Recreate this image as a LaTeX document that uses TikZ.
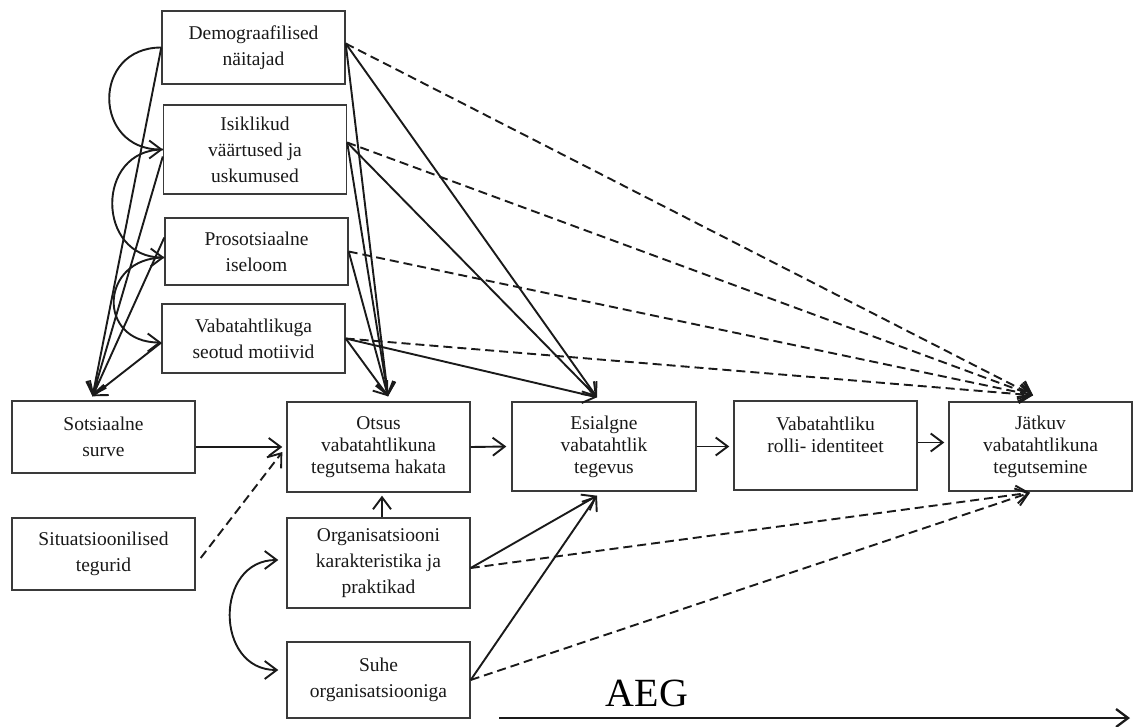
\documentclass[tikz,border=0pt]{standalone}
\usepackage{fontspec}
\setmainfont{Liberation Serif}
\usetikzlibrary{arrows.meta,calc}
\definecolor{boxgray}{HTML}{3A3A3A}
\definecolor{linec}{HTML}{1A1A1A}
\begin{document}
\begin{tikzpicture}[x=1pt,y=-1pt,
  box/.style={draw=boxgray, line width=1.4pt, minimum width=183pt, inner sep=0pt, align=center, text=black!90, font=\fontsize{19.5}{26}\selectfont},
  mid/.style={box, font=\fontsize{19.5}{22}\selectfont},
  arr/.style={draw=linec, line width=1.9pt, -{Straight Barb[length=12pt,width=18pt]}},
  darr/.style={arr, dash pattern=on 9pt off 5pt},
  arrtwo/.style={arr, {Straight Barb[length=12pt,width=18pt]}-{Straight Barb[length=12pt,width=18pt]}}]
\useasboundingbox (0,0) rectangle (1133,726);
\fill[white] (0,0) rectangle (1133,726);

% nodes
\node[box, minimum height=73pt] (demo) at (253.5,47.5) {Demograafilised\\näitajad};
\node[box, minimum height=89pt] (isik) at (255,149.5) {Isiklikud\\väärtused ja\\uskumused};
\node[box, minimum height=67pt] (proso) at (256.5,251.5) {Prosotsiaalne\\iseloom};
\node[box, minimum height=69pt] (vaba) at (253.5,338.5) {Vabatahtlikuga\\seotud motiivid};
\node[box, minimum height=72pt] (sots) at (103.5,437) {Sotsiaalne\\surve};
\node[box, minimum height=72pt] (situ) at (103.5,554) {Situatsioonilised\\tegurid};
\node[mid, minimum height=90pt] (otsus) at (378.5,447) {Otsus\\vabatahtlikuna\\tegutsema hakata};
\node[box, minimum height=90pt] (org) at (378.5,563) {Organisatsiooni\\karakteristika ja\\praktikad};
\node[box, minimum height=76pt] (suhe) at (378.5,680) {Suhe\\organisatsiooniga};
\node[mid, minimum height=89pt, minimum width=184pt] (esi) at (604,446.5) {Esialgne\\vabatahtlik\\tegevus};
\node[mid, minimum height=89pt] (rolli) at (825.5,445.5) {Vabatahtliku\\rolli- identiteet\\\mbox{}};
\node[mid, minimum height=89pt] (jatk) at (1040.5,446.5) {Jätkuv\\vabatahtlikuna\\tegutsemine};

% left curved arrows
\draw[arr] (demo.west) .. controls +(-70,0) and +(-70,0) .. (isik.west);
\draw[arr] (isik.west) .. controls +(-68,0) and +(-68,0) .. ([yshift=-6pt]proso.west);
\draw[arr] ([yshift=-6pt]proso.west) .. controls +(-65,0) and +(-65,0) .. ([yshift=-4pt]vaba.west);

% to Sotsiaalne surve
\coordinate (sotsIn) at ([xshift=-11pt,yshift=4pt]sots.north);
\draw[arr] (demo.west) -- (sotsIn);
\draw[arr] ([yshift=-7pt]isik.west) -- (sotsIn);
\draw[arr] ([yshift=14pt]proso.west) -- (sotsIn);
\draw[arr] ([yshift=-4pt]vaba.west) -- (sotsIn);

% to Otsus top
\coordinate (otsIn) at ([xshift=9.5pt,yshift=5pt]otsus.north);
\draw[arr] ([yshift=4pt]demo.east) -- (otsIn);
\draw[arr] ([yshift=7pt]isik.east) -- (otsIn);
\draw[arr] (proso.east) -- (otsIn);
\draw[arr] (vaba.east) -- (otsIn);

% to Esialgne top
\coordinate (esiIn) at ([xshift=-7pt,yshift=4pt]esi.north);
\draw[arr] ([yshift=4pt]demo.east) -- (esiIn);
\draw[arr] ([yshift=7pt]isik.east) -- (esiIn);
\draw[arr] (vaba.east) -- (esiIn);

% dashed to Jatkuv top
\coordinate (jatIn) at ([xshift=-7.5pt,yshift=6pt]jatk.north);
\draw[darr] ([yshift=4pt]demo.east) -- (jatIn);
\draw[darr] ([yshift=7pt]isik.east) -- (jatIn);
\draw[darr] (proso.east) -- (jatIn);
\draw[darr] (vaba.east) -- (jatIn);

% from org and suhe
\coordinate (esiBot) at ([xshift=-7pt,yshift=-4pt]esi.south);
\coordinate (jatBot) at ([xshift=-10.5pt,yshift=-1pt]jatk.south);
\draw[arr] ([yshift=-5pt]org.east) -- (esiBot);
\draw[arr] (suhe.east) -- (esiBot);
\draw[darr] ([yshift=-5pt]org.east) -- (jatBot);
\draw[darr] (suhe.east) -- (jatBot);

% horizontal flow
\draw[arr] (sots.east |- otsus.west) -- ([xshift=-4pt]otsus.west);
\draw[darr] ([xshift=5pt,yshift=-4pt]situ.east) -- ([xshift=-4pt,yshift=-5pt]otsus.west);
\draw[arr] ([xshift=3.5pt]org.north) -- ([xshift=3.5pt,yshift=-3pt]otsus.south);
\draw[arr] (otsus.east) -- ([xshift=-5pt]esi.west);
\draw[arr] (esi.east) -- ($(esi.east -| rolli.west)+(-4,0)$);
\coordinate (r1) at ([yshift=3pt]rolli.east);
\draw[arr] (r1) -- ($(r1 -| jatk.west)+(-4,0)$);

% org <-> suhe
\draw[arrtwo] ([xshift=-8pt,yshift=3pt]org.west) .. controls +(-64,0) and +(-64,0) .. ([xshift=-8pt,yshift=10pt]suhe.west);

% time axis
\coordinate (aegS) at (499,718);
\coordinate (aegE) at (1130,718);
\draw[arr, line width=2.3pt] (aegS) -- (aegE);
\node[font=\fontsize{40}{40}\selectfont, inner sep=0pt] (aeg) at (647,693) {AEG};
\end{tikzpicture}
\end{document}
